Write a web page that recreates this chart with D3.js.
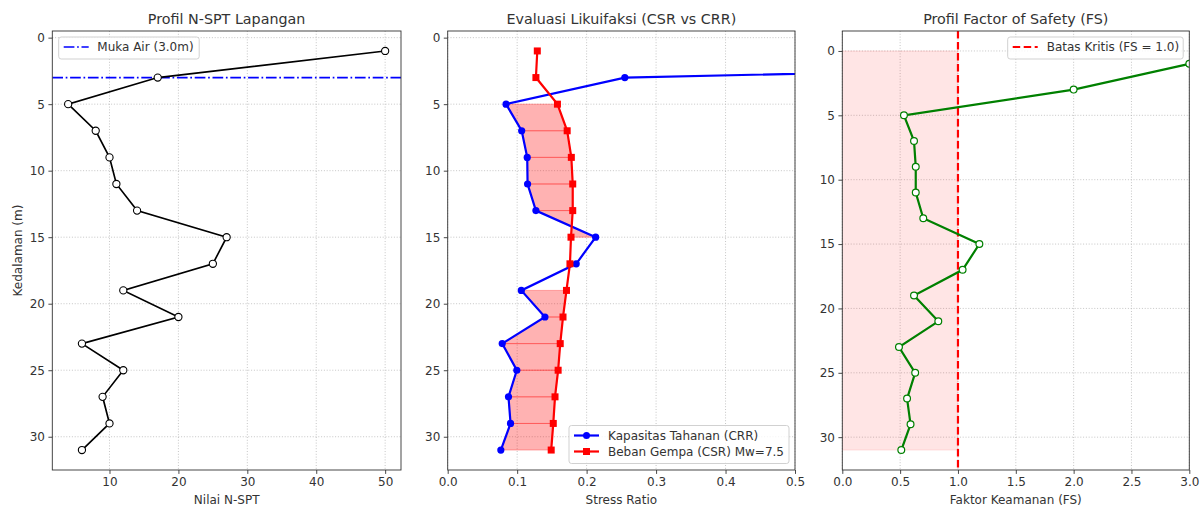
<!DOCTYPE html>
<html>
<head>
<meta charset="utf-8">
<script src="https://cdn.jsdelivr.net/npm/d3@7"></script>
<style>
  body { margin: 0; background: #fff; }
  svg { font-family: "DejaVu Sans", sans-serif; }
</style>
</head>
<body>
<div id="chart"></div>
<script>
// data
const depth = [1, 3, 5, 7, 9, 11, 13, 15, 17, 19, 21, 23, 25, 27, 29, 31];
const nSpt  = [50, 17, 4, 8, 10, 11, 14, 27, 25, 12, 20, 6, 12, 9, 10, 6];
const crr   = [2.0, 0.255, 0.084, 0.1065, 0.1145, 0.115, 0.127, 0.213, 0.185, 0.106, 0.14, 0.0785, 0.0995, 0.0875, 0.0905, 0.0765];
const csr   = [0.129, 0.127, 0.158, 0.172, 0.178, 0.180, 0.180, 0.1775, 0.176, 0.171, 0.166, 0.162, 0.159, 0.1545, 0.152, 0.149];
const fs    = [3.0, 2.0, 0.533, 0.62, 0.635, 0.635, 0.70, 1.185, 1.04, 0.62, 0.83, 0.49, 0.63, 0.56, 0.59, 0.51];
const waterTable = 3.0;
const fsCritical = 1.0;
const depthTicks = [0, 5, 10, 15, 20, 25, 30];
const nTicks   = [10, 20, 30, 40, 50];
const srTicks  = [0, 0.1, 0.2, 0.3, 0.4, 0.5];
const fsTicks  = [0, 0.5, 1, 1.5, 2, 2.5, 3];

const W = 1204, H = 508;
const plotTop = 31, plotBottom = 470;
const textColor = "#333";
const fontSize = "12px";

const svg = d3.select("#chart").append("svg")
  .attr("width", W).attr("height", H);

function panel(id, left, right, xDom, yDom, xTicks, fmt, title, xLabel) {
  const x = d3.scaleLinear().domain(xDom).range([left, right]);
  const y = d3.scaleLinear().domain(yDom).range([plotTop, plotBottom]);
  const g = svg.append("g");

  svg.append("clipPath").attr("id", id)
    .append("rect").attr("x", left).attr("y", plotTop)
    .attr("width", right - left).attr("height", plotBottom - plotTop);

  // grid
  const grid = g.append("g").attr("stroke", "#b8b8b8").attr("stroke-width", 0.8)
    .attr("stroke-dasharray", "1,1.8");
  grid.selectAll(".gx").data(xTicks).enter().append("line")
    .attr("x1", d => x(d)).attr("x2", d => x(d)).attr("y1", plotTop).attr("y2", plotBottom);
  grid.selectAll(".gy").data(depthTicks).enter().append("line")
    .attr("y1", d => y(d)).attr("y2", d => y(d)).attr("x1", left).attr("x2", right);

  const plot = g.append("g").attr("clip-path", `url(#${id})`);
  const over = svg.append("g"); // spines, axes, legend

  // axes
  const ax = over.append("g").attr("transform", `translate(0,${plotBottom})`)
    .call(d3.axisBottom(x).tickValues(xTicks).tickFormat(fmt).tickSize(3.9).tickPadding(3.5));
  const ay = over.append("g").attr("transform", `translate(${left},0)`)
    .call(d3.axisLeft(y).tickValues(depthTicks).tickFormat(d3.format("d")).tickSize(3.9).tickPadding(3.5));
  [ax, ay].forEach(a => {
    a.select(".domain").remove();
    a.selectAll(".tick line").attr("stroke", textColor).attr("stroke-width", 0.9);
    a.selectAll(".tick text").attr("fill", textColor).style("font-size", fontSize)
      .style("font-family", "DejaVu Sans");
  });

  over.append("rect").attr("x", left).attr("y", plotTop)
    .attr("width", right - left).attr("height", plotBottom - plotTop)
    .attr("fill", "none").attr("stroke", textColor).attr("stroke-width", 0.9);

  over.append("text").attr("x", (left + right) / 2).attr("y", 24)
    .attr("text-anchor", "middle").attr("fill", textColor)
    .style("font-size", "14.3px").text(title);
  over.append("text").attr("x", (left + right) / 2).attr("y", 503.5)
    .attr("text-anchor", "middle").attr("fill", textColor)
    .style("font-size", fontSize).text(xLabel);

  return {x, y, plot, over, left, right};
}

function legend(p, bx, by, bw, items) {
  const lg = p.over.append("g");
  lg.append("rect").attr("x", bx).attr("y", by).attr("width", bw)
    .attr("height", 8 + items.length * 16 - 2).attr("rx", 2.5)
    .attr("fill", "#fff").attr("fill-opacity", 0.8)
    .attr("stroke", "#ccc").attr("stroke-width", 0.9);
  items.forEach((it, i) => {
    const cy = by + 10 + i * 16;
    lg.append("line").attr("x1", bx + 5).attr("x2", bx + 30).attr("y1", cy).attr("y2", cy)
      .attr("stroke", it.color).attr("stroke-width", it.width)
      .attr("stroke-dasharray", it.dash || null);
    if (it.marker === "circle")
      lg.append("circle").attr("cx", bx + 17.5).attr("cy", cy).attr("r", 3.5).attr("fill", it.color);
    if (it.marker === "square")
      lg.append("rect").attr("x", bx + 14).attr("y", cy - 3.5).attr("width", 7).attr("height", 7).attr("fill", it.color);
    lg.append("text").attr("x", bx + it.tx).attr("y", cy).attr("dy", "0.35em")
      .attr("fill", textColor).style("font-size", fontSize).text(it.label);
  });
}

// ---- Panel 1: N-SPT
const p1 = panel("c1", 52.3, 401, [1.7, 52.3], [-0.5, 32.5], nTicks, d3.format("d"),
  "Profil N-SPT Lapangan", "Nilai N-SPT");

p1.plot.append("line").attr("x1", p1.left).attr("x2", p1.right)
  .attr("y1", p1.y(waterTable)).attr("y2", p1.y(waterTable))
  .attr("stroke", "blue").attr("stroke-width", 1.67).attr("stroke-dasharray", "10.7,2.7,1.7,2.7");

p1.plot.append("path").datum(depth.map((d, i) => [nSpt[i], d]))
  .attr("fill", "none").attr("stroke", "#000").attr("stroke-width", 1.67)
  .attr("d", d3.line().x(d => p1.x(d[0])).y(d => p1.y(d[1])));
p1.plot.selectAll(".m").data(depth).enter().append("circle")
  .attr("cx", (d, i) => p1.x(nSpt[i])).attr("cy", d => p1.y(d)).attr("r", 3.6)
  .attr("fill", "#fff").attr("stroke", "#000").attr("stroke-width", 1.1);

legend(p1, 58.7, 37, 140.5, [
  {label: "Muka Air (3.0m)", color: "blue", width: 1.67, dash: "10.7,2.7,1.7,2.7", tx: 38.6}
]);

svg.append("text").attr("transform", "translate(22,250.5) rotate(-90)")
  .attr("text-anchor", "middle").attr("fill", textColor)
  .style("font-size", fontSize).text("Kedalaman (m)");

// ---- Panel 2: CSR vs CRR
const p2 = panel("c2", 447.7, 795, [0, 0.5], [-0.5, 32.5], srTicks, d3.format(".1f"),
  "Evaluasi Likuifaksi (CSR vs CRR)", "Stress Ratio");

// fill each depth segment where CSR exceeds CRR at its upper point
const segs = d3.range(depth.length - 1).filter(i => csr[i] > crr[i]);
p2.plot.selectAll(".f").data(segs).enter().append("path")
  .attr("d", i => "M" + [
    [p2.x(crr[i]), p2.y(depth[i])], [p2.x(crr[i + 1]), p2.y(depth[i + 1])],
    [p2.x(csr[i + 1]), p2.y(depth[i + 1])], [p2.x(csr[i]), p2.y(depth[i])]
  ].join("L") + "Z")
  .attr("fill", "red").attr("fill-opacity", 0.3)
  .attr("stroke", "red").attr("stroke-opacity", 0.3).attr("stroke-width", 1);

const line2 = d3.line().x(d => p2.x(d[0])).y(d => p2.y(d[1]));
p2.plot.append("path").datum(depth.map((d, i) => [crr[i], d]))
  .attr("fill", "none").attr("stroke", "blue").attr("stroke-width", 2.2).attr("d", line2);
p2.plot.selectAll(".mb").data(depth).enter().append("circle")
  .attr("cx", (d, i) => p2.x(crr[i])).attr("cy", d => p2.y(d)).attr("r", 3.6).attr("fill", "blue");
p2.plot.append("path").datum(depth.map((d, i) => [csr[i], d]))
  .attr("fill", "none").attr("stroke", "red").attr("stroke-width", 2.2).attr("d", line2);
p2.plot.selectAll(".mr").data(depth).enter().append("rect")
  .attr("x", (d, i) => p2.x(csr[i]) - 3.5).attr("y", d => p2.y(d) - 3.5)
  .attr("width", 7).attr("height", 7).attr("fill", "red");

legend(p2, 569, 425.5, 220, [
  {label: "Kapasitas Tahanan (CRR)", color: "blue", width: 2.2, marker: "circle", tx: 39},
  {label: "Beban Gempa (CSR) Mw=7.5", color: "red", width: 2.2, marker: "square", tx: 39}
]);

// ---- Panel 3: Factor of Safety
const p3 = panel("c3", 842.3, 1189.3, [0, 3], [-1.55, 32.55], fsTicks, d3.format(".1f"),
  "Profil Factor of Safety (FS)", "Faktor Keamanan (FS)");

p3.plot.append("rect").attr("x", p3.x(0)).attr("y", p3.y(0))
  .attr("width", p3.x(fsCritical) - p3.x(0)).attr("height", p3.y(d3.max(depth)) - p3.y(0))
  .attr("fill", "red").attr("fill-opacity", 0.1)
  .attr("stroke", "red").attr("stroke-opacity", 0.1).attr("stroke-width", 1);

p3.plot.append("line").attr("x1", p3.x(fsCritical)).attr("x2", p3.x(fsCritical))
  .attr("y1", plotTop).attr("y2", plotBottom)
  .attr("stroke", "red").attr("stroke-width", 2.2).attr("stroke-dasharray", "7.5,3.5");

p3.plot.append("path").datum(depth.map((d, i) => [fs[i], d]))
  .attr("fill", "none").attr("stroke", "green").attr("stroke-width", 2.2)
  .attr("d", d3.line().x(d => p3.x(d[0])).y(d => p3.y(d[1])));
p3.plot.selectAll(".mg").data(depth).enter().append("circle")
  .attr("cx", (d, i) => p3.x(fs[i])).attr("cy", d => p3.y(d)).attr("r", 3.4)
  .attr("fill", "#fff").attr("stroke", "green").attr("stroke-width", 1.2);

legend(p3, 1007.7, 37, 175.5, [
  {label: "Batas Kritis (FS = 1.0)", color: "red", width: 2.2, dash: "7.5,3.5", tx: 39}
]);
</script>
</body>
</html>
